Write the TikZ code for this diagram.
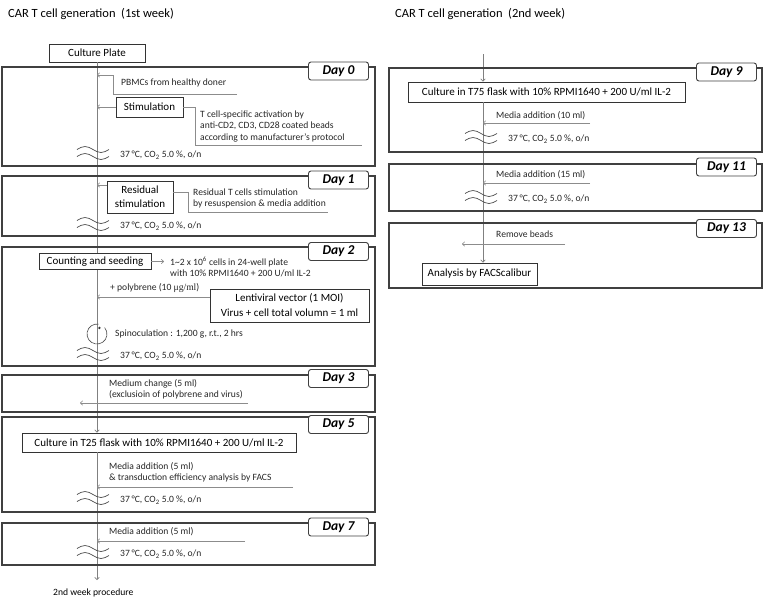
\documentclass[tikz,border=0pt]{standalone}
\usepackage{fontspec}
\setmainfont{Carlito}
\newfontfamily\serifmu{Liberation Serif}
\usetikzlibrary{arrows.meta, calc, positioning}
\tikzset{
    dayframe/.style={draw=black!75, line width=1.1pt},
    daylab/.style={draw=black!75, fill=white, rounded corners=2.5pt, line width=0.9pt,
        minimum width=60pt, minimum height=18pt, inner sep=0pt,
        font=\fontsize{13.5}{13.5}\selectfont\bfseries\itshape},
    stepbox/.style={draw=black!80, fill=white, line width=0.8pt, inner sep=0pt, align=center,
        font=\fontsize{11}{14}\selectfont},
    note/.style={anchor=west, inner sep=0pt, align=left, text=black!85,
        font=\fontsize{9.6}{11.5}\selectfont},
    flow/.style={draw=black!45, line width=0.6pt, -{To[length=3pt,width=5pt]}},
    leader/.style={draw=black!45, line width=0.6pt},
    mainline/.style={draw=black!50, line width=0.7pt, -{To[length=3pt,width=5pt]}},
    incub/.pic={
        \draw[black!70, line width=0.7pt] (-16,-3.5) sin (-8,-6.5) cos (0,-3.5) sin (8,-0.5) cos (16,-3.5);
        \draw[black!70, line width=0.7pt] (-16,3.5) sin (-8,0.5) cos (0,3.5) sin (8,6.5) cos (16,3.5);
    }
}
\newcommand{\cond}{37\,°C, CO\textsubscript{2} 5.0 \%, o/n}

\begin{document}
\begin{tikzpicture}[x=1pt, y=-1pt]
    \useasboundingbox (0,0) rectangle (763,606);
    % ---------- 1st week ----------
    \node[anchor=west, inner sep=0pt, font=\fontsize{12.5}{13}\selectfont] (t1) at (8,14) {CAR T cell generation~ (1st week)};
    \node[stepbox, minimum width=96pt, minimum height=18pt] (plate) at (97,53) {Culture Plate};
    \node[stepbox, minimum width=274pt, minimum height=19pt] (t25) at (159,442.5) {Culture in T25 flask with 10\% RPMI1640 + 200 U/ml IL-2};
    \coordinate (endL) at (97,580);
    \draw[mainline] (plate.south) -- (plate.south |- t25.north);
    \draw[mainline] (plate.south |- t25.south) -- (endL);
    \node[note, text=black] (nextwk) at (53,593) {2nd week procedure};

    % Day 0
    \draw[dayframe] (2,67) rectangle (375,166);
    \node[daylab] (d0) at (338.5,71) {Day 0};
    \node[note] (pbmc) at (121,83) {PBMCs from healthy doner};
    \coordinate (pb0) at (237,94);
    \coordinate (pb1) at (113,75);
    \draw[flow] (pb0) -| (pb1) -- (pb1 -| plate);
    \node[stepbox, minimum width=67pt, minimum height=20pt] (stim) at (149.5,107) {Stimulation};
    \draw[flow] (stim.west) -- (stim.west -| plate);
    \coordinate (st1) at (362,145);
    \draw[leader] (stim.east) -- ++(12,0) |- (st1);
    \node[note] (act) at (200,126) {T cell-specific activation by\\anti-CD2, CD3, CD28 coated beads\\according to manufacturer's protocol};
    \pic at (93,153) {incub};
    \node[note] (c0) at (120,155) {\cond};

    % Day 1
    \draw[dayframe] (2,176) rectangle (375,236);
    \node[daylab] (d1) at (338.5,180) {Day 1};
    \node[stepbox, minimum width=66pt, minimum height=32pt, font=\fontsize{11}{14}\selectfont] (resid) at (140,197) {Residual\\stimulation};
    \coordinate (r1) at ([yshift=12pt]resid.west);
    \draw[flow] (r1) -- (r1 -| plate);
    \coordinate (r2) at ([yshift=5pt]resid.east);
    \coordinate (r3) at (328,212);
    \draw[leader] (r2) -- ++(15,0) |- (r3);
    \node[note] (rest) at (193,198.5) {Residual T cells stimulation\\by resuspension \& media addition};
    \pic at (93,224) {incub};
    \node[note] (c1) at (120,226) {\cond};

    % Day 2
    \draw[dayframe] (2,247) rectangle (375,366);
    \node[daylab] (d2) at (338.5,251.5) {Day 2};
    \node[stepbox, minimum width=112pt, minimum height=16pt] (count) at (95,261.5) {Counting and seeding};
    \node[note] (cells) at (170,267) {1\textasciitilde 2 x 10\textsuperscript{6} cells in 24-well plate\\with 10\% RPMI1640 + 200 U/ml IL-2};
    \draw[flow, shorten >=6pt] (count.east) -- (count.east -| cells.west);
    \node[note] (poly) at (110,288) {+ polybrene (10 {\serifmu μg/ml})};
    \node[stepbox, minimum width=159pt, minimum height=33pt, font=\fontsize{11}{15}\selectfont] (lenti) at (289.5,305.5) {Lentiviral vector (1 MOI)\\Virus + cell total volumn = 1 ml};
    \coordinate (lv1) at ([yshift=8.5pt]lenti.west);
    \draw[flow] (lv1) -- (lv1 -| plate);
    \coordinate (spin) at (97,334);
    \draw[black!70, line width=0.6pt] ([shift={(-80:10)}]spin) arc[start angle=-80, end angle=-400, radius=10];
    \fill[black!80] ([shift={(-68:6.5)}]spin) circle (1.3);
    \node[note] (spn) at (115,333.5) {Spinoculation : 1,200 g, r.t., 2 hrs};
    \pic at (93,354) {incub};
    \node[note] (c2) at (120,356) {\cond};

    % Day 3
    \draw[dayframe] (2,375) rectangle (375,412);
    \node[daylab] (d3) at (338.5,378.5) {Day 3};
    \node[note] (medium) at (109,389.5) {Medium change (5 ml)\\(exclusioin of polybrene and virus)};
    \coordinate (m3a) at (248,403);
    \coordinate (m3b) at (80,403);
    \draw[flow] (m3a) -- (m3b);

    % Day 5
    \draw[dayframe] (2,417) rectangle (375,512);
    \node[daylab] (d5) at (338.5,424.5) {Day 5};
    \node[note] (facs) at (109,472.5) {Media addition (5 ml)\\\& transduction efficiency analysis by FACS};
    \coordinate (m5) at (293,487);
    \draw[flow] (m5) -- (m5 -| plate);
    \pic at (93,498) {incub};
    \node[note] (c5) at (120,500) {\cond};

    % Day 7
    \draw[dayframe] (2,523) rectangle (375,565);
    \node[daylab] (d7) at (338.5,527) {Day 7};
    \node[note] (add7) at (109,532) {Media addition (5 ml)};
    \coordinate (m7) at (245,541);
    \draw[flow] (m7) -- (m7 -| plate);
    \pic at (93,552) {incub};
    \node[note] (c7) at (120,554) {\cond};

    % ---------- 2nd week ----------
    \node[anchor=west, inner sep=0pt, font=\fontsize{12.5}{13}\selectfont] (t2) at (395,14) {CAR T cell generation~ (2nd week)};
    \node[stepbox, minimum width=277pt, minimum height=20pt] (t75) at (546.5,92) {Culture in T75 flask with 10\% RPMI1640 + 200 U/ml IL-2};
    \node[stepbox, minimum width=115pt, minimum height=22pt] (calib) at (479.5,274) {Analysis by FACScalibur};
    \coordinate (startR) at (483,54);
    \draw[mainline] (startR) -- (startR |- t75.north);
    \draw[mainline] (startR |- t75.south) -- (startR |- calib.north);

    % Day 9
    \draw[dayframe] (389,68) rectangle (762,152);
    \node[daylab] (d9) at (726.5,72) {Day 9};
    \node[note] (add9) at (496,116) {Media addition (10 ml)};
    \coordinate (m9) at (590,123);
    \draw[flow] (m9) -- (m9 -| startR);
    \pic at (481,137) {incub};
    \node[note] (c9) at (508,139) {\cond};

    % Day 11
    \draw[dayframe] (389,164) rectangle (762,211);
    \node[daylab] (d11) at (726.5,167) {Day 11};
    \node[note] (add11) at (496,175) {Media addition (15 ml)};
    \coordinate (m11) at (590,183);
    \draw[flow] (m11) -- (m11 -| startR);
    \pic at (481,197) {incub};
    \node[note] (c11) at (508,199) {\cond};

    % Day 13
    \draw[dayframe] (389,223) rectangle (762,288);
    \node[daylab] (d13) at (726.5,228.5) {Day 13};
    \node[note] (beads) at (496,234) {Remove beads};
    \coordinate (m13a) at (565,244);
    \coordinate (m13b) at (462,244);
    \draw[flow] (m13a) -- (m13b);
\end{tikzpicture}
\end{document}
